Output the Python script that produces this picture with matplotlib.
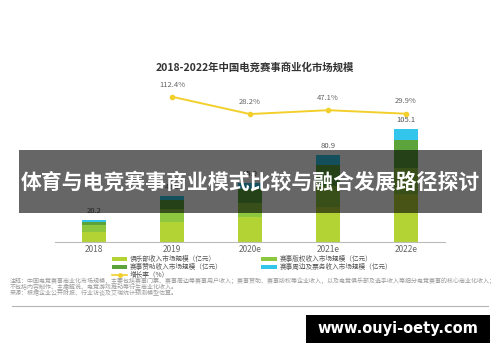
import matplotlib
matplotlib.use('Agg')
import matplotlib.pyplot as plt
import numpy as np
from matplotlib.patches import Rectangle
from matplotlib.lines import Line2D

plt.rcParams['font.family'] = ['Noto Sans CJK SC', 'DejaVu Sans']
plt.rcParams['axes.unicode_minus'] = False

W, H = 500, 362

# data (亿元)
years = ['2018', '2019', '2020e', '2021e', '2022e']
club = [9.3, 18.0, 23.0, 32.0, 45.0]
rights = [6.2, 12.5, 13.0, 20.0, 24.0]
sponsor = [3.2, 8.4, 13.0, 20.0, 26.0]
other = [1.5, 4.0, 6.0, 8.9, 10.1]
totals = ['20.2', '42.9', '55.0', '80.9', '105.1']
growth = [112.4, 28.2, 47.1, 29.9]
growth_years = ['2019', '2020e', '2021e', '2022e']

labels = ['俱乐部收入市场规模（亿元）', '赛事版权收入市场规模（亿元）',
          '赛事赞助收入市场规模（亿元）', '赛事周边及票务收入市场规模（亿元）', '增长率（%）']
colors = ['#b3d335', '#8dc63f', '#5ca33b', '#33c5ec']
line_color = '#f3cf2c'


def fx(x):
    return x / W


def fy(y):
    return 1 - y / H


fig = plt.figure(figsize=(W / 100, H / 100), dpi=100)
fig.patch.set_facecolor('white')

ax = fig.add_axes([fx(55), fy(241.7), fx(390), (241.7 - 80) / H])
x = np.arange(len(years))
bw = 0.31

bottom = np.zeros(len(years))
handles = []
for vals, c in zip([club, rights, sponsor, other], colors):
    b = ax.bar(x, vals, bw, bottom=bottom, color=c, zorder=2)
    handles.append(b)
    bottom += np.array(vals)

for xi, top, t in zip(x, bottom, totals):
    ax.text(xi, top + 4.5, t, ha='center', va='bottom', fontsize=5.5, color='#555555')

ax.set_xlim(-0.5, 4.5)
ax.set_ylim(0, 151)
ax.set_xticks(x)
ax.set_xticklabels(years, fontsize=6, color='#666666')
ax.tick_params(axis='x', length=0, pad=2.5)
ax.set_yticks([])
for s in ['top', 'left', 'right']:
    ax.spines[s].set_visible(False)
ax.spines['bottom'].set_color('#bbbbbb')
ax.spines['bottom'].set_linewidth(0.8)

ax2 = ax.twinx()
gx = [years.index(g) for g in growth_years]
ax2.plot(gx, growth, color=line_color, lw=1.4, marker='o', markersize=3, zorder=3)
for xi, g in zip(gx, growth):
    ax2.text(xi, g + 40, f'{g}%', ha='center', va='bottom', fontsize=5.5, color='#666666')
ax2.set_ylim(-593, 194)
ax2.set_yticks([])
for s in ['top', 'left', 'right', 'bottom']:
    ax2.spines[s].set_visible(False)

fig.text(fx(255), fy(67), '2018-2022年中国电竞赛事商业化市场规模', ha='center', va='center',
         fontsize=7.5, fontweight='bold', color='#333333')

# legend
line_handle = Line2D([0], [0], color=line_color, lw=1.2, marker='o', markersize=2.5)
leg_handles = [handles[0], handles[2], line_handle, handles[1], handles[3]]
leg_labels = [labels[0], labels[2], labels[4], labels[1], labels[3]]
fig.legend(leg_handles, leg_labels, ncol=2, frameon=False, fontsize=4.8,
           loc='upper left', bbox_to_anchor=(fx(112), fy(255)),
           handlelength=2.3, handleheight=0.6, handletextpad=0.4,
           labelspacing=0.0, columnspacing=5.8, borderaxespad=0, borderpad=0,
           labelcolor='#555555')

notes = [
    '注释：中国电竞赛事商业化市场规模，主要包括赛事门票、赛事周边等赛事用户收入；赛事赞助、赛事版权等企业收入，以及电竞俱乐部及选手收入等细分电竞赛事的核心商业化收入；',
    '不包括内容制作、主播解说、电竞游戏推动等衍生商业化收入。',
    '来源：根据企业公开财报、行业访谈及艾瑞统计预测模型估算。',
]
for i, n in enumerate(notes):
    fig.text(fx(10), fy(281 + i * 5.8), n, ha='left', va='center', fontsize=4.3, color='#999999')

fig.add_artist(Line2D([fx(12), fx(488)], [fy(306), fy(306)], color='#b5b5b5', lw=0.8))

# banner overlay
fig.add_artist(Rectangle((fx(19), fy(212.7)), fx(463), (212.7 - 150) / H,
                         facecolor='black', alpha=0.6, edgecolor='none', zorder=10))
fig.text(fx(250.5), fy(182), '体育与电竞赛事商业模式比较与融合发展路径探讨', ha='center', va='center',
         fontsize=15, fontweight='bold', color='white', zorder=11)

# watermark
fig.add_artist(Rectangle((fx(306), fy(343)), fx(184), 28 / H,
                         facecolor='black', edgecolor='none', zorder=10))
fig.text(fx(398), fy(329), 'www.ouyi-oety.com', ha='center', va='center',
         fontsize=10.5, fontweight='bold', color='white', zorder=11, family='DejaVu Sans')

fig.savefig('out.png', dpi=100)
